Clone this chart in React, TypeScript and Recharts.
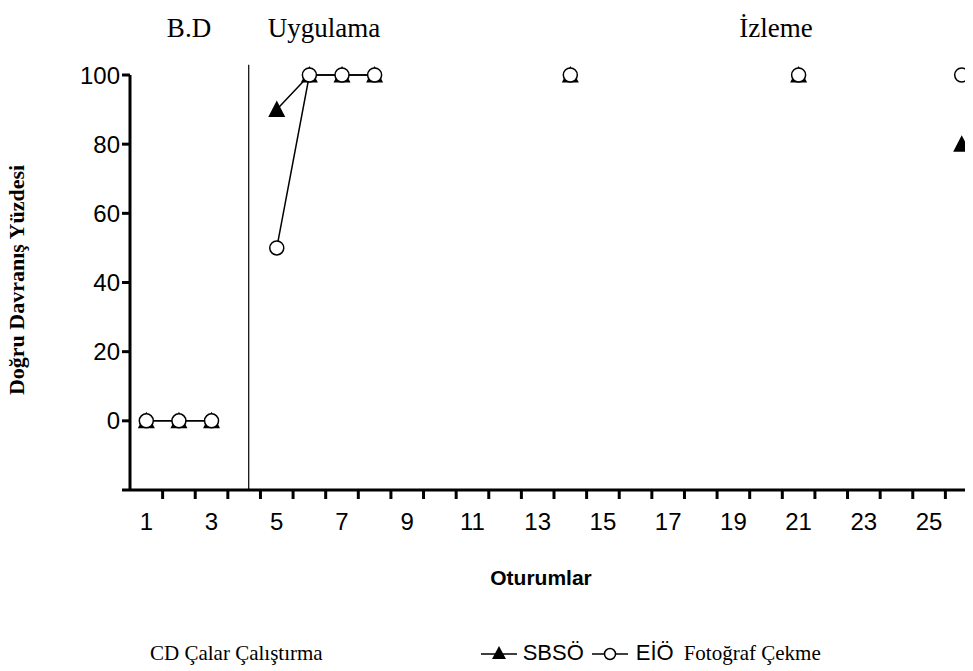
import { LineChart, Line, XAxis, YAxis, ReferenceLine } from 'recharts';

// oturumlar (sessions) 1..26
const SESSIONS = [1, 2, 3, 4, 5, 6, 7, 8, 9, 10, 11, 12, 13, 14, 15, 16, 17, 18, 19, 20, 21, 22, 23, 24, 25, 26];

const SBSO = [0, 0, 0, null, 90, 100, 100, 100, null, null, null, null, null, 100, null, null, null, null, null, null, 100, null, null, null, null, 80];
const EIO = [0, 0, 0, null, 50, 100, 100, 100, null, null, null, null, null, 100, null, null, null, null, null, null, 100, null, null, null, null, 100];

const X_LABELS = [1, 3, 5, 7, 9, 11, 13, 15, 17, 19, 21, 23, 25];
const Y_TICKS = [-20, 0, 20, 40, 60, 80, 100];
const PHASE_LINE_X = 4.14;

const PHASES = [
  { name: 'B.D', x: 189 },
  { name: 'Uygulama', x: 324 },
  { name: 'İzleme', x: 776 },
];

const SANS = '"Liberation Sans", Arial, sans-serif';
const SERIF = '"Liberation Serif", "Times New Roman", serif';

const data = SESSIONS.map((s, i) => ({ session: s, sbso: SBSO[i], eio: EIO[i] }));
const xTicks = [...X_LABELS, ...SESSIONS.map(s => s + 0.5)].sort((a, b) => a - b);

const TriangleDot = (props: any) => {
  const { cx, cy, value, index } = props;
  if (cx == null || cy == null || value == null) return <g key={`t${index}`} />;
  return (
    <path
      key={`t${index}`}
      d={`M${cx},${cy - 9} L${cx + 8.5},${cy + 7.5} L${cx - 8.5},${cy + 7.5} Z`}
      fill="#000"
    />
  );
};

const CircleDot = (props: any) => {
  const { cx, cy, value, index } = props;
  if (cx == null || cy == null || value == null) return <g key={`c${index}`} />;
  return <circle key={`c${index}`} cx={cx} cy={cy} r={7} fill="#fff" stroke="#000" strokeWidth={1.5} />;
};

const XTick = (props: any) => {
  const { x, y, payload } = props;
  const v = payload.value;
  if (v % 1 !== 0) {
    return <line x1={x} x2={x} y1={y} y2={y + 9} stroke="#000" strokeWidth={3} />;
  }
  return (
    <text x={x} y={y + 40} textAnchor="middle" fill="#000" fontSize={24} fontFamily={SANS}>
      {v}
    </text>
  );
};

export default function App() {
  return (
    <div style={{ position: 'relative', width: 965, height: 663, background: '#fff' }}>
      <div style={{ width: 965, height: 663, overflow: 'hidden' }}>
        <LineChart width={1000} height={663} data={data} margin={{ top: 67, right: 30, left: 62, bottom: 121 }}>
          <XAxis
            dataKey="session"
            type="number"
            domain={[0.5, 26.5]}
            ticks={xTicks}
            interval={0}
            tickLine={false}
            tickSize={0}
            tickMargin={0}
            height={60}
            axisLine={{ stroke: '#000', strokeWidth: 3 }}
            tick={<XTick />}
          />
          <YAxis
            type="number"
            domain={[-20, 100]}
            ticks={Y_TICKS}
            width={60}
            tickSize={8}
            tickMargin={2}
            tickFormatter={(v: number) => (v === -20 ? '' : String(v))}
            axisLine={{ stroke: '#000', strokeWidth: 3 }}
            tickLine={{ stroke: '#000', strokeWidth: 3 }}
            tick={{ fill: '#000', fontSize: 24, fontFamily: SANS }}
          />
          <ReferenceLine
            segment={[{ x: PHASE_LINE_X, y: -20 }, { x: PHASE_LINE_X, y: 103 }]}
            stroke="#000"
            strokeWidth={1.2}
            ifOverflow="visible"
          />
          <Line
            dataKey="sbso"
            name="SBSÖ"
            stroke="#000"
            strokeWidth={1.5}
            dot={TriangleDot}
            activeDot={false}
            connectNulls={false}
            isAnimationActive={false}
          />
          <Line
            dataKey="eio"
            name="EİÖ"
            stroke="#000"
            strokeWidth={1.5}
            dot={CircleDot}
            activeDot={false}
            connectNulls={false}
            isAnimationActive={false}
          />
        </LineChart>
      </div>

      {PHASES.map(p => (
        <div
          key={p.name}
          style={{
            position: 'absolute', left: p.x - 8, top: 20, transform: 'translate(-50%, -50%)',
            fontFamily: SERIF, fontSize: 27, whiteSpace: 'nowrap',
          }}
        >
          {p.name}
        </div>
      ))}

      <div
        style={{
          position: 'absolute', left: 9, top: 272, transform: 'translate(-50%, -50%) rotate(-90deg)',
          fontFamily: SERIF, fontWeight: 'bold', fontSize: 22, whiteSpace: 'nowrap',
        }}
      >
        Doğru Davranış Yüzdesi
      </div>

      <div
        style={{
          position: 'absolute', left: 533, top: 570, transform: 'translate(-50%, -50%)',
          fontFamily: SANS, fontWeight: 'bold', fontSize: 21, whiteSpace: 'nowrap',
        }}
      >
        Oturumlar
      </div>

      {/* alt satır: lejant */}
      <div
        style={{
          position: 'absolute', left: 142, top: 645, transform: 'translateY(-50%)',
          display: 'flex', alignItems: 'center', whiteSpace: 'nowrap',
        }}
      >
        <span style={{ fontFamily: SERIF, fontSize: 21 }}>CD Çalar Çalıştırma</span>
        <svg width={40} height={20} style={{ marginLeft: 156 }}>
          <line x1={2} x2={38} y1={11} y2={11} stroke="#000" strokeWidth={1.5} />
          <path d="M20,3 L27,16 L13,16 Z" fill="#000" />
        </svg>
        <span style={{ fontFamily: SANS, fontSize: 22, marginLeft: 4 }}>SBSÖ</span>
        <svg width={40} height={20} style={{ marginLeft: 6 }}>
          <line x1={2} x2={38} y1={11} y2={11} stroke="#000" strokeWidth={1.5} />
          <circle cx={20} cy={11} r={5.5} fill="#fff" stroke="#000" strokeWidth={1.5} />
        </svg>
        <span style={{ fontFamily: SANS, fontSize: 22, marginLeft: 6 }}>EİÖ</span>
        <span style={{ fontFamily: SERIF, fontSize: 21, marginLeft: 10 }}>Fotoğraf Çekme</span>
      </div>
    </div>
  );
}
